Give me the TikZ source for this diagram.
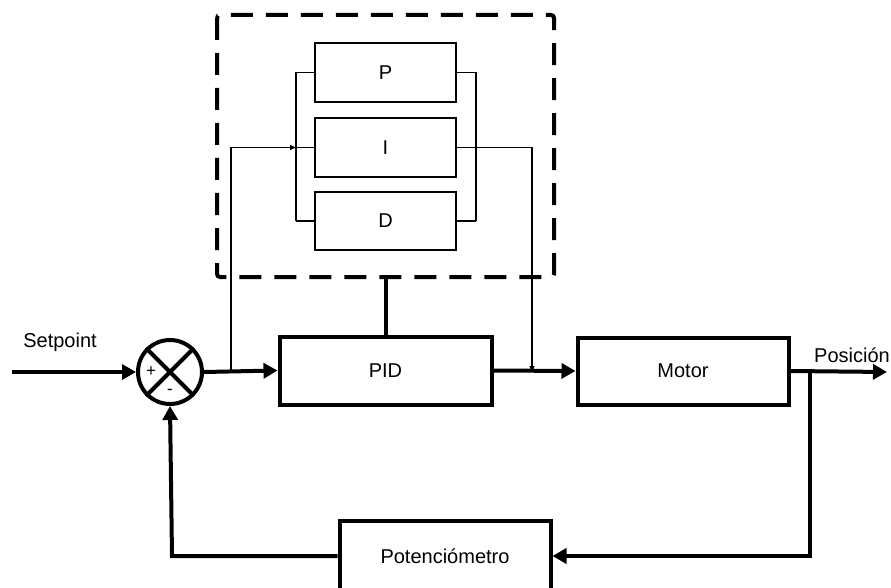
\documentclass[tikz,border=0pt]{standalone}
\usepackage{fontspec}
\setmainfont{Liberation Sans}
\usetikzlibrary{arrows.meta,shapes.geometric}
\begin{document}
\begin{tikzpicture}[x=1pt,y=-1pt,
  font=\fontsize{20}{23}\selectfont,
  thin box/.style={draw,line width=1.2pt,inner sep=0pt,minimum width=141pt},
  thick box/.style={draw,line width=4pt,inner sep=0pt},
  thinline/.style={line width=1.2pt},
  thickline/.style={line width=4pt},
  big arrow/.style={thickline,-{Triangle[length=14pt,width=15pt]}},
  small arrow/.style={thinline,-{Triangle[length=6pt,width=5pt]}},
  plain/.style={inner sep=0pt}]
\useasboundingbox (0,0) rectangle (891,588);
% dashed frame
\draw[line width=4pt,dash pattern=on 22pt off 13pt,rounded corners=3pt] (217,15) rectangle (554,277);
% inner blocks
\node[thin box,minimum height=59pt] (P) at (385.5,72.5) {P};
\node[thin box,minimum height=59pt] (I) at (385.5,147.5) {I};
\node[thin box,minimum height=58pt] (D) at (385.5,221) {D};
% main blocks
\node[thick box,minimum width=212pt,minimum height=68pt] (PID) at (385.5,370.5) {PID};
\node[thick box,minimum width=211pt,minimum height=67pt] (M) at (683,371) {Motor};
\node[thick box,minimum width=211pt,minimum height=70pt] (POT) at (445,556) {Potenciómetro};
% summing junction
\node[circle,draw,line width=4pt,minimum size=64pt,inner sep=0pt] (S) at (170,372) {};
\draw[thickline] (S.north west) -- (S.south east);
\draw[thickline] (S.north east) -- (S.south west);
\node[plain,font=\fontsize{17}{19}\selectfont] (plus) at (151,372) {+};
\node[plain,font=\fontsize{17}{19}\selectfont] (minus) at (170,392) {-};
% labels
\node[plain] (sp) at (60,342) {Setpoint};
\node[plain] (pos) at (852,355) {Posición};
% coordinates
\coordinate (in) at (12,372);
\coordinate (out) at (887,372);
\coordinate (br1) at (231,372);
\coordinate (br1t) at (231,147.5);
\coordinate (lbP) at (296,72.5);
\coordinate (lbI) at (296,147.5);
\coordinate (lbD) at (296,221);
\coordinate (rbP) at (476,72.5);
\coordinate (rbD) at (476,221);
\coordinate (iout) at (532,147.5);
\coordinate (ijoin) at (532,372);
\coordinate (stem) at (385.5,277);
\coordinate (br2) at (810,372);
\coordinate (br2b) at (810,556);
\coordinate (fbl) at (172,556);
% main path
\draw[big arrow] (in) -- (S.west);
\draw[big arrow] (S.east) -- (PID.west);
\draw[big arrow] (PID.east) -- (M.west);
\draw[big arrow] (M.east) -- (out);
\draw[thickline] (PID.north) -- (stem);
% feedback
\draw[big arrow,line join=miter] (br2) -- (br2b) -- (POT.east);
\draw[big arrow,line join=miter] (POT.west) -- (fbl) -- (S.south);
% PID internals
\draw[thinline] (lbP) -- (lbD);
\draw[thinline] (rbP) -- (rbD);
\draw[thinline] (lbP) -- (P.west);
\draw[thinline] (lbI) -- (I.west);
\draw[thinline] (lbD) -- (D.west);
\draw[thinline] (P.east) -- (rbP);
\draw[thinline] (D.east) -- (rbD);
\draw[small arrow] (br1) -- (br1t) -- (lbI);
\draw[small arrow] (I.east) -- (iout) -- (ijoin);
\end{tikzpicture}
\end{document}
